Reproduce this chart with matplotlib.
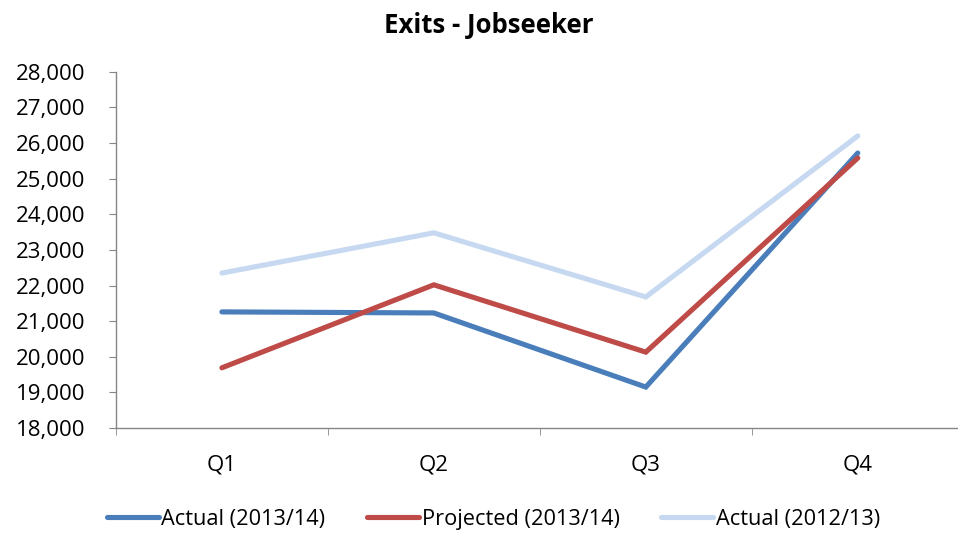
import numpy as np
import matplotlib
matplotlib.use("Agg")
import matplotlib.pyplot as plt
from matplotlib.ticker import FuncFormatter

plt.rcParams['font.family'] = ['Open Sans', 'DejaVu Sans']

quarters = ['Q1', 'Q2', 'Q3', 'Q4']
actual_1314 = [21260, 21230, 19150, 25720]
projected_1314 = [19690, 22020, 20130, 25580]
actual_1213 = [22350, 23480, 21680, 26200]

fig = plt.figure(figsize=(9.58, 5.34), dpi=100)
ax = fig.add_axes([0.121, 0.1985, 0.885, 0.667])

x = np.arange(len(quarters))
ax.plot(x, actual_1314, color='#4A7EBB', lw=3.7, solid_capstyle='round', solid_joinstyle='miter', label='Actual (2013/14)')
ax.plot(x, projected_1314, color='#BE4B48', lw=3.7, solid_capstyle='round', solid_joinstyle='miter', label='Projected (2013/14)')
ax.plot(x, actual_1213, color='#C6D9F1', lw=3.7, solid_capstyle='round', solid_joinstyle='miter', label='Actual (2012/13)')

ax.set_xlim(-0.5, 3.5)
ax.set_ylim(18000, 28000)
ax.set_yticks(np.arange(18000, 28001, 1000))
ax.yaxis.set_major_formatter(FuncFormatter(lambda v, p: f'{int(v):,}'))
ax.set_xticks(x)
ax.set_xticklabels(quarters)
ax.set_xticks(np.arange(-0.5, 3.6, 1), minor=True)
ax.tick_params(axis='x', which='major', length=0, pad=19, labelsize=16)
ax.tick_params(axis='x', which='minor', length=5, color='#868686')
ax.tick_params(axis='y', length=5, color='#868686', labelsize=16, pad=17)

for s in ['top', 'right']:
    ax.spines[s].set_visible(False)
for s in ['left', 'bottom']:
    ax.spines[s].set_color('#868686')
    ax.spines[s].set_linewidth(1)

ax.set_title('Exits - Jobseeker', fontsize=18.5, fontweight='bold', pad=28, x=0.44)

fig.legend(loc='center', bbox_to_anchor=(0.515, 0.028), ncol=3, frameon=False,
           fontsize=15.7, handlelength=2.4, columnspacing=1.9, handletextpad=0.1)

fig.savefig('out.png', dpi=100)
